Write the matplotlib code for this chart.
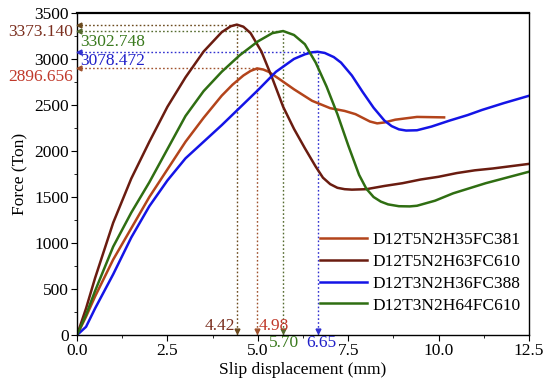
import matplotlib
matplotlib.use("Agg")
import matplotlib.pyplot as plt
from matplotlib.ticker import MultipleLocator, FormatStrFormatter

plt.rcParams['font.family'] = ['Liberation Serif', 'DejaVu Serif']

# ---- data ----
x_or = [0, 0.25, 0.5, 1.0, 1.5, 2.0, 2.5, 3.0, 3.5, 4.0, 4.3, 4.6, 4.8, 4.98, 5.15, 5.3, 5.6, 6.0, 6.5, 7.0, 7.4, 7.7, 7.9, 8.1, 8.3, 8.5, 8.8, 9.4, 10.15]
y_or = [0, 200, 420, 820, 1160, 1500, 1800, 2100, 2360, 2600, 2720, 2820, 2870, 2897, 2885, 2860, 2780, 2670, 2545, 2465, 2435, 2400, 2360, 2320, 2300, 2310, 2340, 2370, 2365]

x_dr = [0, 0.25, 0.5, 1.0, 1.5, 2.0, 2.5, 3.0, 3.5, 4.0, 4.25, 4.42, 4.6, 4.8, 5.1, 5.4, 5.7, 6.0, 6.3, 6.6, 6.8, 7.0, 7.2, 7.4, 7.6, 8.0, 8.5, 9.0, 9.5, 10.0, 10.5, 11.0, 11.5, 12.0, 12.5]
y_dr = [0, 290, 620, 1220, 1700, 2100, 2480, 2800, 3080, 3290, 3355, 3373, 3350, 3280, 3080, 2790, 2480, 2240, 2030, 1830, 1710, 1640, 1600, 1585, 1580, 1585, 1620, 1650, 1690, 1720, 1760, 1790, 1810, 1835, 1860]

x_bl = [0, 0.25, 0.5, 1.0, 1.5, 2.0, 2.5, 3.0, 3.5, 4.0, 4.5, 5.0, 5.5, 6.0, 6.3, 6.5, 6.65, 6.85, 7.1, 7.3, 7.6, 7.9, 8.2, 8.5, 8.7, 8.9, 9.1, 9.4, 9.8, 10.3, 10.8, 11.2, 11.8, 12.5]
y_bl = [0, 90, 290, 660, 1060, 1400, 1680, 1920, 2100, 2280, 2470, 2660, 2860, 3000, 3050, 3072, 3078, 3065, 3020, 2960, 2820, 2640, 2470, 2330, 2270, 2235, 2222, 2225, 2265, 2330, 2390, 2446, 2520, 2600]

x_gr = [0, 0.25, 0.5, 1.0, 1.5, 2.0, 2.5, 3.0, 3.5, 4.0, 4.5, 5.0, 5.4, 5.7, 6.0, 6.3, 6.6, 6.9, 7.2, 7.5, 7.8, 8.0, 8.2, 8.4, 8.6, 8.9, 9.2, 9.4, 9.9, 10.4, 11.3, 12.5]
y_gr = [0, 220, 480, 960, 1330, 1660, 2020, 2380, 2650, 2860, 3040, 3190, 3280, 3303, 3260, 3160, 2960, 2700, 2400, 2060, 1740, 1590, 1500, 1450, 1420, 1400, 1398, 1405, 1460, 1540, 1650, 1775]

labels = ['D12T5N2H35FC381', 'D12T5N2H63FC610', 'D12T3N2H36FC388', 'D12T3N2H64FC610']
colors = ['#B3441B', '#6A1C10', '#1414E6', '#2F6E12']

peak_x = [4.98, 4.42, 6.65, 5.70]
peak_y = [2896.656, 3373.140, 3078.472, 3302.748]
peak_ylab = ['2896.656', '3373.140', '3078.472', '3302.748']
peak_xlab = ['4.98', '4.42', '6.65', '5.70']
guide_colors = ['#A0522D', '#6B4A1E', '#3030D0', '#556B2F']
text_colors = ['#C0392B', '#7A2E1E', '#2020C8', '#3A7A1E']

FS = 12.5

fig = plt.figure(figsize=(5.5, 3.91), dpi=100)
ax = fig.add_axes([0.14, 0.143, 0.822, 0.824])

# guide lines
for px, py, gc in zip(peak_x, peak_y, guide_colors):
    ax.plot([0, px], [py, py], linestyle=(0, (1.2, 1.6)), color=gc, lw=1.0, zorder=1)
    ax.plot([px, px], [0, py], linestyle=(0, (1.2, 1.6)), color=gc, lw=1.0, zorder=1)
    ax.plot([0.06], [py], marker='<', color=gc, ms=3.5, clip_on=False, zorder=3)
    ax.plot([px], [40], marker='v', color=gc, ms=3.5, clip_on=False, zorder=3)

series = [(x_or, y_or), (x_dr, y_dr), (x_bl, y_bl), (x_gr, y_gr)]
for (xs, ys), c, lab in zip(series, colors, labels):
    ax.plot(xs, ys, color=c, lw=1.8, label=lab, zorder=2, solid_joinstyle='round')

ax.set_xlim(0, 12.5)
ax.set_ylim(0, 3500)
ax.xaxis.set_major_locator(MultipleLocator(2.5))
ax.xaxis.set_minor_locator(MultipleLocator(1.25))
ax.yaxis.set_major_locator(MultipleLocator(500))
ax.yaxis.set_minor_locator(MultipleLocator(250))
ax.xaxis.set_major_formatter(FormatStrFormatter('%.1f'))
ax.tick_params(which='major', direction='out', length=4, labelsize=FS, pad=2)
ax.tick_params(which='minor', direction='out', length=2)
for s in ax.spines.values():
    s.set_linewidth(1.0)
ax.spines['top'].set_linewidth(1.6)

ax.set_xlabel('Slip displacement (mm)', fontsize=FS, labelpad=2)
ax.set_ylabel('Force (Ton)', fontsize=FS, labelpad=4)

# peak value labels
ax.text(-0.12, 3290, peak_ylab[1], color=text_colors[1], fontsize=FS, ha='right', va='center', clip_on=False)
ax.text(-0.12, 2800, peak_ylab[0], color=text_colors[0], fontsize=FS, ha='right', va='center', clip_on=False)
ax.text(0.08, 3185, peak_ylab[3], color=text_colors[3], fontsize=FS, ha='left', va='center')
ax.text(0.08, 2975, peak_ylab[2], color=text_colors[2], fontsize=FS, ha='left', va='center')

ax.text(4.36, 100, peak_xlab[1], color=text_colors[1], fontsize=FS, ha='right', va='center')
ax.text(5.02, 100, peak_xlab[0], color=text_colors[0], fontsize=FS, ha='left', va='center')
ax.text(5.72, -90, peak_xlab[3], color=text_colors[3], fontsize=FS, ha='center', va='center', clip_on=False)
ax.text(6.75, -90, peak_xlab[2], color=text_colors[2], fontsize=FS, ha='center', va='center', clip_on=False)

ax.legend(loc='lower right', bbox_to_anchor=(1.0, 0.04), frameon=False, fontsize=FS,
          handlelength=2.7, handletextpad=0.3, labelspacing=0.32, borderaxespad=0.1)

fig.savefig('out.png', dpi=100)
